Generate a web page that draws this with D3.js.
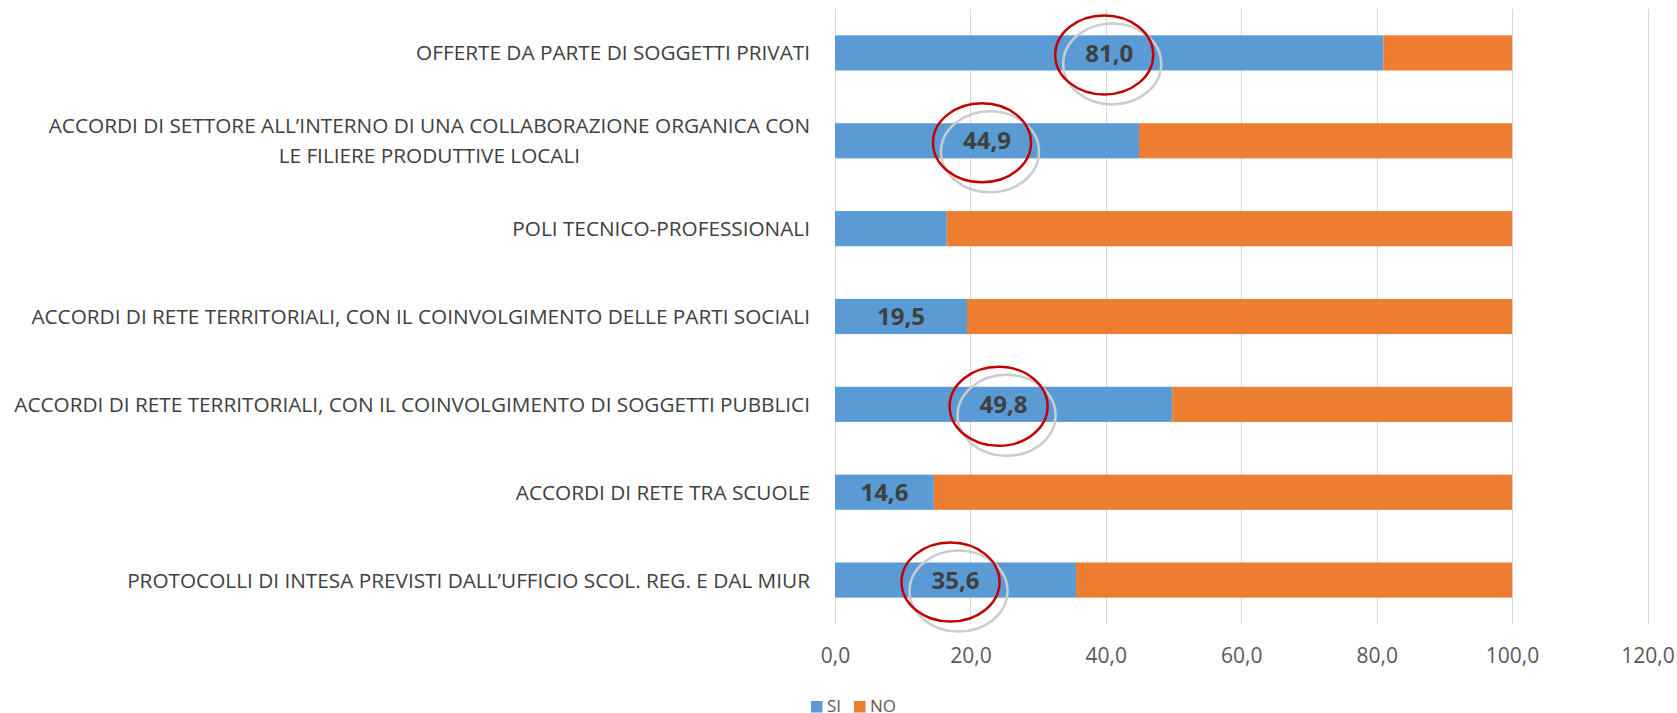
<!DOCTYPE html>
<html>
<head>
<meta charset="utf-8">
<script src="https://cdn.jsdelivr.net/npm/d3@7"></script>
<style>
  body { margin: 0; background: #fff; }
  svg { display: block; font-family: "Open Sans", sans-serif; }
</style>
</head>
<body>
<div id="chart"></div>
<script>
// ********** DATA **********
const categories = [
  'OFFERTE DA PARTE DI SOGGETTI PRIVATI',
  'ACCORDI DI SETTORE ALL’INTERNO DI UNA COLLABORAZIONE ORGANICA CON\nLE FILIERE PRODUTTIVE LOCALI',
  'POLI TECNICO-PROFESSIONALI',
  'ACCORDI DI RETE TERRITORIALI, CON IL COINVOLGIMENTO DELLE PARTI SOCIALI',
  'ACCORDI DI RETE TERRITORIALI, CON IL COINVOLGIMENTO DI SOGGETTI PUBBLICI',
  'ACCORDI DI RETE TRA SCUOLE',
  'PROTOCOLLI DI INTESA PREVISTI DALL’UFFICIO SCOL. REG. E DAL MIUR'
];
const siValues = [81.0, 44.9, 16.5, 19.5, 49.8, 14.6, 35.6];
const noValues = [19.0, 55.1, 83.5, 80.5, 50.2, 85.4, 64.4];
const showLabel = [true, true, false, true, true, true, true];
const circled = [true, true, false, false, true, false, true];
const seriesNames = ['SI', 'NO'];
const xTicks = [0, 20, 40, 60, 80, 100, 120];

// ********** SIZE **********
const width = 1677, height = 713;
const margin = { top: 9, right: 29.5, bottom: 89, left: 835 };
const colors = { SI: '#5b9bd5', NO: '#ed7d31' };

const svg = d3.select('#chart').append('svg')
  .attr('width', width)
  .attr('height', height);

const x = d3.scaleLinear()
  .domain([0, 120])
  .range([margin.left, width - margin.right]);

const y = d3.scaleBand()
  .domain(categories)
  .range([margin.top, height - margin.bottom])
  .paddingInner(0.6)
  .paddingOuter(0.3);

const fmt = v => d3.format('.1f')(v).replace('.', ',');

// gridlines
svg.append('g')
  .selectAll('line')
  .data(xTicks)
  .join('line')
  .attr('x1', d => Math.round(x(d)) + 0.5)
  .attr('x2', d => Math.round(x(d)) + 0.5)
  .attr('y1', margin.top)
  .attr('y2', height - margin.bottom)
  .attr('stroke', '#d9d9d9')
  .attr('stroke-width', 1);

// x axis labels
const xAxis = svg.append('g')
  .attr('transform', `translate(0, ${height - margin.bottom + 24})`)
  .call(d3.axisBottom(x).tickValues(xTicks).tickFormat(fmt).tickSize(0).tickPadding(0));
xAxis.select('.domain').remove();
xAxis.selectAll('text')
  .attr('dy', '0.71em')
  .attr('fill', '#595959')
  .style('font-size', '21px')
  .style('font-family', '"Open Sans", sans-serif');

// ********** BARS **********
const rows = categories.map((c, i) => ({ cat: c, SI: siValues[i], NO: noValues[i], i: i }));
const stack = d3.stack().keys(seriesNames)(rows);

svg.append('g')
  .selectAll('g')
  .data(stack)
  .join('g')
  .attr('fill', d => colors[d.key])
  .selectAll('rect')
  .data(d => d)
  .join('rect')
  .attr('x', d => x(d[0]))
  .attr('y', d => y(d.data.cat))
  .attr('width', d => x(d[1]) - x(d[0]))
  .attr('height', y.bandwidth());

// data labels (SI)
svg.append('g')
  .selectAll('text')
  .data(rows.filter(d => showLabel[d.i]))
  .join('text')
  .attr('x', d => x(d.SI / 2))
  .attr('y', d => y(d.cat) + y.bandwidth() / 2)
  .attr('dy', '0.36em')
  .attr('text-anchor', 'middle')
  .attr('fill', '#404040')
  .style('font-size', '24px')
  .style('font-weight', 'bold')
  .text(d => fmt(d.SI));

// ********** ANNOTATION CIRCLES **********
const marks = svg.append('g').attr('fill', 'none');
rows.filter(d => circled[d.i]).forEach(d => {
  const cx = x(d.SI / 2), cy = y(d.cat) + y.bandwidth() / 2;
  // grey shadow first, red ring on top
  marks.append('ellipse')
    .attr('cx', cx + 3).attr('cy', cy + 11)
    .attr('rx', 49).attr('ry', 40.5)
    .attr('stroke', '#cccccc')
    .attr('stroke-width', 2.5);
  marks.append('ellipse')
    .attr('cx', cx - 5).attr('cy', cy + 2)
    .attr('rx', 49).attr('ry', 39.5)
    .attr('stroke', '#c00000')
    .attr('stroke-width', 2.5);
});

// ********** CATEGORY LABELS **********
const labelRight = margin.left - 25;
const catLabels = svg.append('g')
  .attr('fill', '#404040')
  .style('font-size', '21px');

categories.forEach(c => {
  const lines = c.split('\n');
  const cy = y(c) + y.bandwidth() / 2;
  if (lines.length === 1) {
    catLabels.append('text')
      .attr('class', 'single')
      .attr('x', labelRight)
      .attr('y', cy)
      .attr('dy', '0.36em')
      .attr('text-anchor', 'end')
      .text(c);
  } else {
    // two lines, centred on each other
    lines.forEach((line, k) => {
      catLabels.append('text')
        .attr('class', 'wrapped')
        .attr('y', cy + (k === 0 ? -15 : 15))
        .attr('dy', '0.36em')
        .attr('text-anchor', 'middle')
        .text(line);
    });
  }
});

// shrink the labels to the width the longest one takes in the reference
let widest = 0;
catLabels.selectAll('text').each(function() {
  widest = Math.max(widest, this.getComputedTextLength());
});
catLabels.style('font-size', Math.min(21, 21 * 796 / widest) + 'px');

const wrapped = catLabels.selectAll('.wrapped');
const firstW = wrapped.node().getComputedTextLength();
wrapped.attr('x', labelRight - firstW / 2);

// ********** LEGEND **********
const legend = svg.append('g')
  .attr('transform', 'translate(811, 701)');
const legendX = [0, 43];
seriesNames.forEach((s, i) => {
  legend.append('rect')
    .attr('x', legendX[i]).attr('y', 0)
    .attr('width', 11.5).attr('height', 11.5)
    .attr('fill', colors[s]);
  legend.append('text')
    .attr('x', legendX[i] + 16)
    .attr('y', 11)
    .attr('fill', '#595959')
    .style('font-size', '17px')
    .text(s);
});
</script>
</body>
</html>
